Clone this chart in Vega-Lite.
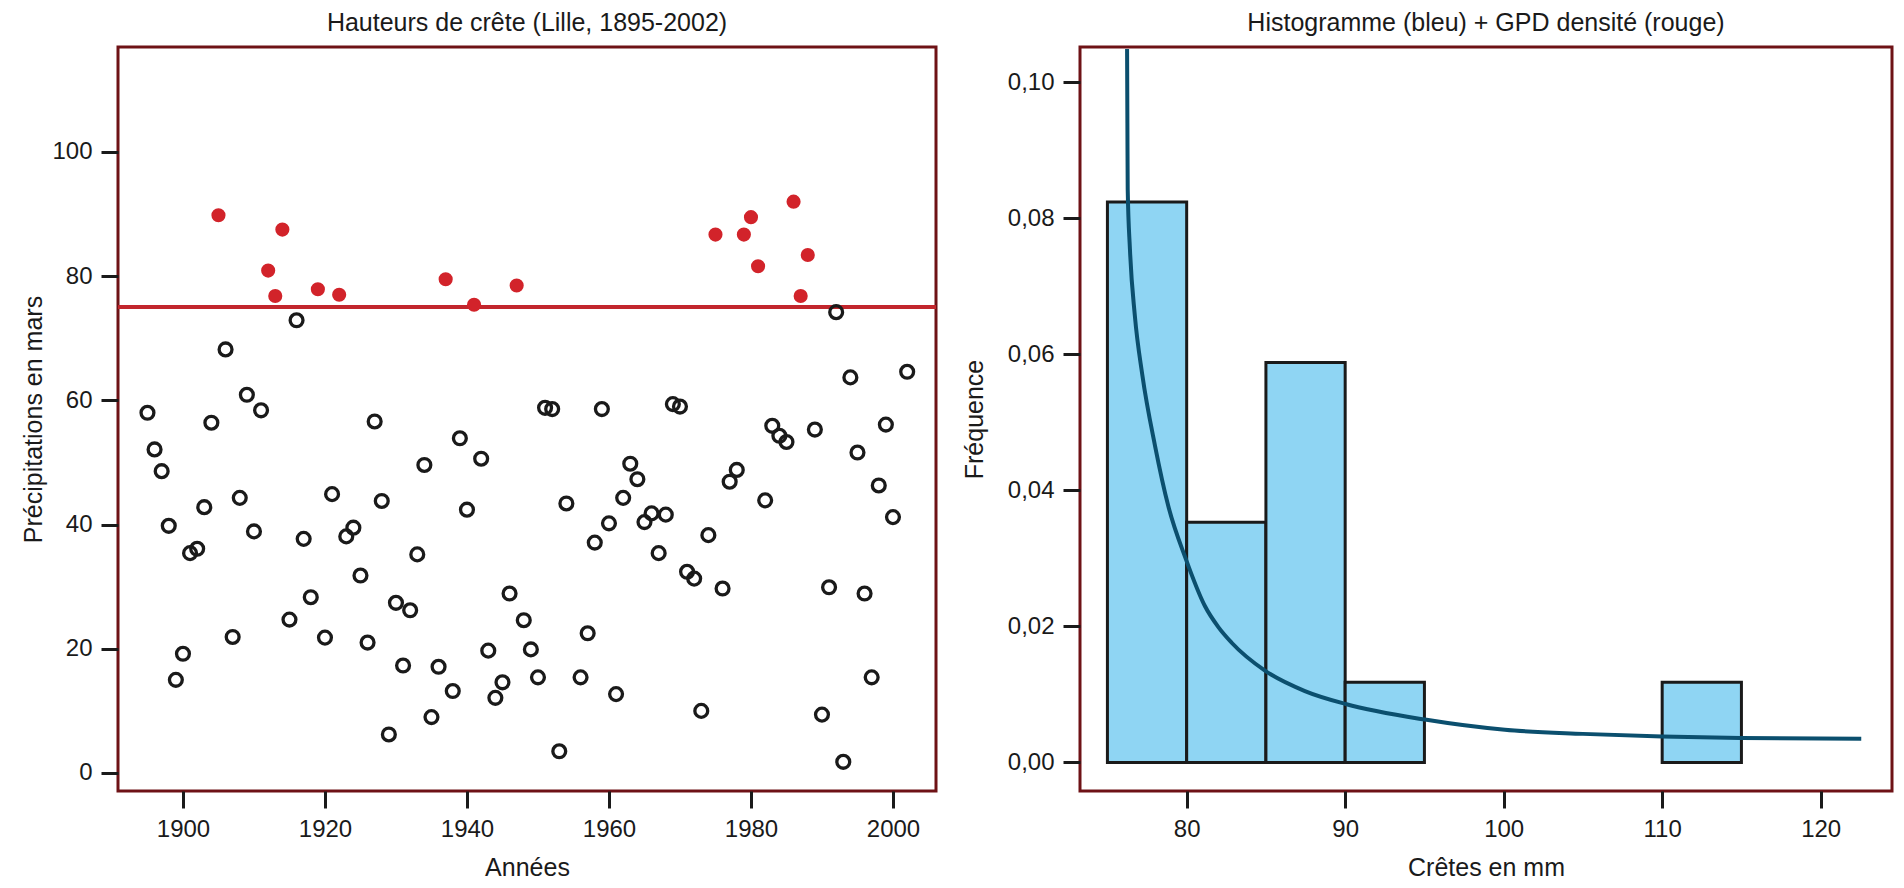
{
  "$schema": "https://vega.github.io/schema/vega-lite/v6.json",
  "background": "white",
  "padding": {"left": 20, "top": 9, "right": 0, "bottom": 0},
  "spacing": 21,
  "config": {
    "font": "Liberation Sans",
    "view": {"stroke": "#6e1216", "strokeWidth": 3},
    "axis": {
      "domain": false, "grid": false,
      "ticks": true, "tickColor": "#1a1a1a", "tickWidth": 3, "tickSize": 17,
      "labelFont": "Liberation Sans", "labelFontSize": 24, "labelColor": "#1a1a1a", "labelPadding": 9,
      "titleFont": "Liberation Sans", "titleFontSize": 25, "titleFontWeight": "normal", "titleColor": "#1a1a1a"
    },
    "title": {"font": "Liberation Sans", "fontSize": 25, "fontWeight": "normal", "color": "#1a1a1a", "anchor": "middle", "baseline": "alphabetic", "offset": 11}
  },
  "datasets": {
    "pluies": [
      {"annee":1895,"pluie":58.0,"type":"sous"},{"annee":1896,"pluie":52.1,"type":"sous"},{"annee":1897,"pluie":48.6,"type":"sous"},
      {"annee":1898,"pluie":39.8,"type":"sous"},{"annee":1899,"pluie":15.0,"type":"sous"},{"annee":1900,"pluie":19.2,"type":"sous"},
      {"annee":1901,"pluie":35.4,"type":"sous"},{"annee":1902,"pluie":36.1,"type":"sous"},{"annee":1903,"pluie":42.8,"type":"sous"},
      {"annee":1904,"pluie":56.4,"type":"sous"},{"annee":1905,"pluie":89.8,"type":"crete"},{"annee":1906,"pluie":68.2,"type":"sous"},
      {"annee":1907,"pluie":21.9,"type":"sous"},{"annee":1908,"pluie":44.3,"type":"sous"},{"annee":1909,"pluie":60.9,"type":"sous"},
      {"annee":1910,"pluie":38.9,"type":"sous"},{"annee":1911,"pluie":58.4,"type":"sous"},{"annee":1912,"pluie":80.9,"type":"crete"},
      {"annee":1913,"pluie":76.8,"type":"crete"},{"annee":1914,"pluie":87.5,"type":"crete"},{"annee":1915,"pluie":24.7,"type":"sous"},
      {"annee":1916,"pluie":72.9,"type":"sous"},{"annee":1917,"pluie":37.7,"type":"sous"},{"annee":1918,"pluie":28.3,"type":"sous"},
      {"annee":1919,"pluie":77.9,"type":"crete"},{"annee":1920,"pluie":21.8,"type":"sous"},{"annee":1921,"pluie":44.9,"type":"sous"},
      {"annee":1922,"pluie":77.0,"type":"crete"},{"annee":1923,"pluie":38.1,"type":"sous"},{"annee":1924,"pluie":39.5,"type":"sous"},
      {"annee":1925,"pluie":31.8,"type":"sous"},{"annee":1926,"pluie":21.0,"type":"sous"},{"annee":1927,"pluie":56.6,"type":"sous"},
      {"annee":1928,"pluie":43.8,"type":"sous"},{"annee":1929,"pluie":6.2,"type":"sous"},{"annee":1930,"pluie":27.4,"type":"sous"},
      {"annee":1931,"pluie":17.3,"type":"sous"},{"annee":1932,"pluie":26.2,"type":"sous"},{"annee":1933,"pluie":35.2,"type":"sous"},
      {"annee":1934,"pluie":49.6,"type":"sous"},{"annee":1935,"pluie":9.0,"type":"sous"},{"annee":1936,"pluie":17.1,"type":"sous"},
      {"annee":1937,"pluie":79.5,"type":"crete"},{"annee":1938,"pluie":13.2,"type":"sous"},{"annee":1939,"pluie":53.9,"type":"sous"},
      {"annee":1940,"pluie":42.4,"type":"sous"},{"annee":1941,"pluie":75.4,"type":"crete"},{"annee":1942,"pluie":50.6,"type":"sous"},
      {"annee":1943,"pluie":19.7,"type":"sous"},{"annee":1944,"pluie":12.1,"type":"sous"},{"annee":1945,"pluie":14.6,"type":"sous"},
      {"annee":1946,"pluie":28.9,"type":"sous"},{"annee":1947,"pluie":78.5,"type":"crete"},{"annee":1948,"pluie":24.6,"type":"sous"},
      {"annee":1949,"pluie":19.9,"type":"sous"},{"annee":1950,"pluie":15.4,"type":"sous"},{"annee":1951,"pluie":58.8,"type":"sous"},
      {"annee":1952,"pluie":58.6,"type":"sous"},{"annee":1953,"pluie":3.5,"type":"sous"},{"annee":1954,"pluie":43.4,"type":"sous"},
      {"annee":1956,"pluie":15.4,"type":"sous"},{"annee":1957,"pluie":22.5,"type":"sous"},{"annee":1958,"pluie":37.1,"type":"sous"},
      {"annee":1959,"pluie":58.6,"type":"sous"},{"annee":1960,"pluie":40.2,"type":"sous"},{"annee":1961,"pluie":12.7,"type":"sous"},
      {"annee":1962,"pluie":44.3,"type":"sous"},{"annee":1963,"pluie":49.8,"type":"sous"},{"annee":1964,"pluie":47.3,"type":"sous"},
      {"annee":1965,"pluie":40.4,"type":"sous"},{"annee":1966,"pluie":41.8,"type":"sous"},{"annee":1967,"pluie":35.4,"type":"sous"},
      {"annee":1968,"pluie":41.6,"type":"sous"},{"annee":1969,"pluie":59.4,"type":"sous"},{"annee":1970,"pluie":59.0,"type":"sous"},
      {"annee":1971,"pluie":32.4,"type":"sous"},{"annee":1972,"pluie":31.3,"type":"sous"},{"annee":1973,"pluie":10.0,"type":"sous"},
      {"annee":1974,"pluie":38.3,"type":"sous"},{"annee":1975,"pluie":86.7,"type":"crete"},{"annee":1976,"pluie":29.7,"type":"sous"},
      {"annee":1977,"pluie":46.9,"type":"sous"},{"annee":1978,"pluie":48.8,"type":"sous"},{"annee":1979,"pluie":86.7,"type":"crete"},
      {"annee":1980,"pluie":89.5,"type":"crete"},{"annee":1981,"pluie":81.6,"type":"crete"},{"annee":1982,"pluie":43.9,"type":"sous"},
      {"annee":1983,"pluie":55.9,"type":"sous"},{"annee":1984,"pluie":54.3,"type":"sous"},{"annee":1985,"pluie":53.3,"type":"sous"},
      {"annee":1986,"pluie":92.0,"type":"crete"},{"annee":1987,"pluie":76.8,"type":"crete"},{"annee":1988,"pluie":83.4,"type":"crete"},
      {"annee":1989,"pluie":55.3,"type":"sous"},{"annee":1990,"pluie":9.4,"type":"sous"},{"annee":1991,"pluie":29.9,"type":"sous"},
      {"annee":1992,"pluie":74.2,"type":"sous"},{"annee":1993,"pluie":1.8,"type":"sous"},{"annee":1994,"pluie":63.7,"type":"sous"},
      {"annee":1995,"pluie":51.6,"type":"sous"},{"annee":1996,"pluie":28.9,"type":"sous"},{"annee":1997,"pluie":15.4,"type":"sous"},
      {"annee":1998,"pluie":46.3,"type":"sous"},{"annee":1999,"pluie":56.1,"type":"sous"},{"annee":2000,"pluie":41.2,"type":"sous"},
      {"annee":2002,"pluie":64.6,"type":"sous"}
    ],
    "histo": [
      {"debut":75,"fin":80,"densite":0.0824},
      {"debut":80,"fin":85,"densite":0.0353},
      {"debut":85,"fin":90,"densite":0.0588},
      {"debut":90,"fin":95,"densite":0.0118},
      {"debut":110,"fin":115,"densite":0.0118}
    ],
    "gpd": [
      {"x":76.24,"d":0.1049},{"x":76.26,"d":0.094},{"x":76.28,"d":0.0843},{"x":76.42,"d":0.0755},
      {"x":76.73,"d":0.0657},{"x":77.2,"d":0.057},{"x":78.0,"d":0.0466},{"x":78.84,"d":0.0377},
      {"x":79.95,"d":0.0299},{"x":81.15,"d":0.023},{"x":82.0,"d":0.0199},{"x":82.84,"d":0.0176},{"x":84.94,"d":0.0135},
      {"x":87.46,"d":0.0105},{"x":90.03,"d":0.0086},{"x":95.03,"d":0.0063},{"x":100.08,"d":0.0048},
      {"x":105,"d":0.0042},{"x":110,"d":0.0038},{"x":115,"d":0.0036},{"x":122.56,"d":0.0035}
    ]
  },
  "hconcat": [
    {
      "width": 818, "height": 744,
      "title": "Hauteurs de crête (Lille, 1895-2002)",
      "data": {"name": "pluies"},
      "layer": [
        {
          "mark": {"type": "rule", "color": "#c1272d", "strokeWidth": 2.7},
          "encoding": {"y": {"datum": 75, "type": "quantitative"}}
        },
        {
          "transform": [{"filter": "datum.type === 'sous'"}],
          "mark": {"type": "point", "shape": "circle", "filled": false, "stroke": "#1a1a1a", "strokeWidth": 3.3, "size": 165, "opacity": 1},
          "encoding": {
            "x": {"field": "annee", "type": "quantitative", "scale": {"domain": [1890.85, 2006.06], "nice": false, "zero": false},
                  "axis": {"values": [1900, 1920, 1940, 1960, 1980, 2000], "format": "d", "title": "Années", "titlePadding": 14}},
            "y": {"field": "pluie", "type": "quantitative", "scale": {"domain": [-2.9, 116.9], "nice": false, "zero": false},
                  "axis": {"values": [0, 20, 40, 60, 80, 100], "title": "Précipitations en mars", "titlePadding": 5}}
          }
        },
        {
          "transform": [{"filter": "datum.type === 'crete'"}],
          "mark": {"type": "point", "shape": "circle", "filled": true, "color": "#d2232a", "size": 200, "opacity": 1},
          "encoding": {
            "x": {"field": "annee", "type": "quantitative"},
            "y": {"field": "pluie", "type": "quantitative"}
          }
        }
      ]
    },
    {
      "width": 812, "height": 744,
      "title": "Histogramme (bleu) + GPD densité (rouge)",
      "layer": [
        {
          "data": {"name": "histo"},
          "mark": {"type": "bar", "fill": "#8fd5f3", "stroke": "#1a1a1a", "strokeWidth": 3},
          "encoding": {
            "x": {"field": "debut", "type": "quantitative", "scale": {"domain": [73.27, 124.5], "nice": false, "zero": false},
                  "axis": {"values": [80, 90, 100, 110, 120], "title": "Crêtes en mm", "titlePadding": 14}},
            "x2": {"field": "fin"},
            "y": {"field": "densite", "type": "quantitative", "scale": {"domain": [-0.0042, 0.1052], "nice": false, "zero": false},
                  "axis": {"values": [0, 0.02, 0.04, 0.06, 0.08, 0.1], "labelExpr": "replace(format(datum.value, '.2f'), '.', ',')", "title": "Fréquence", "titlePadding": 20}},
            "y2": {"datum": 0}
          }
        },
        {
          "data": {"name": "gpd"},
          "mark": {"type": "line", "color": "#0b4f6e", "strokeWidth": 4, "interpolate": "monotone", "clip": true},
          "encoding": {
            "x": {"field": "x", "type": "quantitative"},
            "y": {"field": "d", "type": "quantitative"}
          }
        }
      ]
    }
  ]
}
